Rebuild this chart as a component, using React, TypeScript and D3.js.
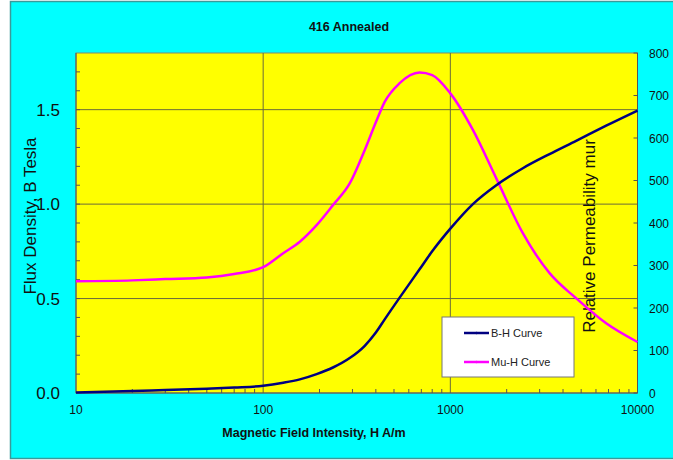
import React from "react";
import * as d3 from "d3";

const hValues = [10, 20, 30, 50, 70, 100, 128, 157, 193, 236, 290, 349, 400, 446, 536, 685, 800, 1000, 1320, 1760, 2440, 3390, 4700, 6800, 10000];
const bValues = [0.003, 0.01, 0.016, 0.023, 0.029, 0.038, 0.054, 0.072, 0.1, 0.135, 0.185, 0.25, 0.32, 0.39, 0.505, 0.655, 0.75, 0.87, 1.0, 1.1, 1.19, 1.265, 1.335, 1.415, 1.495];
const muValues = [263, 265, 268, 272, 280, 296, 329, 356, 395, 442, 493, 572, 637, 685, 729, 754, 748, 705, 619, 505, 376, 282, 223, 164, 120];

const xTicks = [10, 100, 1000, 10000];
const leftTicks = [0, 0.5, 1.0, 1.5];
const rightTicks = [0, 100, 200, 300, 400, 500, 600, 700, 800];

const seriesNames = ["B-H Curve", "Mu-H Curve"];
const title = "416 Annealed";
const xTitle = "Magnetic Field Intensity,  H A/m";
const leftTitle = "Flux Density, B Tesla";
const rightTitle = "Relative  Permeability mur";

const W = 673, H = 460;
const plot = { left: 76, right: 637.5, top: 53, bottom: 393 };
const FONT = "'Liberation Sans', Arial, sans-serif";
const BLUE = "#000080";
const PINK = "#FF00FF";
const GRID = "#6b6b3a";

export default function App() {
  const x = d3.scaleLog().domain([10, 10000]).range([plot.left, plot.right]);
  const yL = d3.scaleLinear().domain([0, 1.8]).range([plot.bottom, plot.top]);
  const yR = d3.scaleLinear().domain([0, 800]).range([plot.bottom, plot.top]);

  const bLine = d3.line<number>()
    .x((_, i) => x(hValues[i]))
    .y((d) => yL(d))
    .curve(d3.curveMonotoneX)(bValues) as string;
  const muLine = d3.line<number>()
    .x((_, i) => x(hValues[i]))
    .y((d) => yR(d))
    .curve(d3.curveMonotoneX)(muValues) as string;

  const leftMinor = d3.range(1, 18).map((i) => i / 10);
  const xMinor: number[] = [];
  [10, 100, 1000].forEach((dec) => {
    for (let k = 2; k <= 9; k++) xMinor.push(dec * k);
  });

  const legend = { x: 442, y: 317, w: 132, h: 60 };

  return (
    <svg width={W} height={H} style={{ position: "absolute", left: 0, top: 0 }} fontFamily={FONT}>
      <rect x={0} y={0} width={W} height={H} fill="#ffffff" />
      <rect x={10.5} y={1.5} width={W} height={457} fill="#00FFFF" stroke="#3a9a9a" strokeWidth={1.5} />
      <text x={349} y={31} textAnchor="middle" fontSize={12.5} fontWeight="bold" fill="#111">{title}</text>

      <rect x={plot.left} y={plot.top} width={plot.right - plot.left} height={plot.bottom - plot.top} fill="#FFFF00" stroke="#888866" strokeWidth={1} />

      {[0.5, 1.0, 1.5].map((v) => (
        <line key={"hg" + v} x1={plot.left} x2={plot.right} y1={yL(v)} y2={yL(v)} stroke={GRID} strokeWidth={1} />
      ))}
      {[100, 1000].map((v) => (
        <line key={"vg" + v} x1={x(v)} x2={x(v)} y1={plot.top} y2={plot.bottom} stroke={GRID} strokeWidth={1} />
      ))}

      <line x1={plot.left} x2={plot.left} y1={plot.top} y2={plot.bottom} stroke="#555" strokeWidth={1} />
      <line x1={plot.right} x2={plot.right} y1={plot.top} y2={plot.bottom} stroke="#555" strokeWidth={1} />
      <line x1={plot.left} x2={plot.right} y1={plot.bottom} y2={plot.bottom} stroke="#555" strokeWidth={1} />

      {leftMinor.map((v) => (
        <line key={"lm" + v} x1={plot.left} x2={plot.left + 4} y1={yL(v)} y2={yL(v)} stroke="#555" strokeWidth={1} />
      ))}
      {rightTicks.map((v) => (
        <line key={"rt" + v} x1={plot.right - 4} x2={plot.right} y1={yR(v)} y2={yR(v)} stroke="#555" strokeWidth={1} />
      ))}
      {xMinor.map((v) => (
        <line key={"xm" + v} x1={x(v)} x2={x(v)} y1={plot.bottom} y2={plot.bottom - 4} stroke="#555" strokeWidth={1} />
      ))}

      {leftTicks.map((v) => (
        <text key={"lt" + v} x={60} y={yL(v) + 6} textAnchor="end" fontSize={17} fill="#111">{v.toFixed(1)}</text>
      ))}
      {rightTicks.map((v) => (
        <text key={"rl" + v} x={649} y={yR(v) + 4.5} textAnchor="start" fontSize={12} fill="#111">{v}</text>
      ))}
      {xTicks.map((v) => (
        <text key={"xl" + v} x={x(v)} y={414} textAnchor="middle" fontSize={12} fill="#111">{v}</text>
      ))}

      <text x={314} y={437} textAnchor="middle" fontSize={12.5} fontWeight="bold" fill="#111">{xTitle}</text>
      <text transform="translate(36,216) rotate(-90)" textAnchor="middle" fontSize={17} fill="#111">{leftTitle}</text>
      <text transform="translate(595,236) rotate(-90)" textAnchor="middle" fontSize={17} fill="#111">{rightTitle}</text>

      <path d={muLine} fill="none" stroke={PINK} strokeWidth={2.5} />
      <path d={bLine} fill="none" stroke={BLUE} strokeWidth={2.5} />

      <rect x={legend.x} y={legend.y} width={legend.w} height={legend.h} fill="#ffffff" stroke="#777" strokeWidth={1} />
      {seriesNames.map((name, i) => {
        const ly = legend.y + 16 + i * 29;
        const col = i === 0 ? BLUE : PINK;
        return (
          <g key={name}>
            <line x1={464} x2={489} y1={ly} y2={ly} stroke={col} strokeWidth={2.5} />
            <circle cx={476.5} cy={ly} r={1.2} fill={col} />
            <text x={491} y={ly + 4} fontSize={11} fill="#222">{name}</text>
          </g>
        );
      })}
    </svg>
  );
}
